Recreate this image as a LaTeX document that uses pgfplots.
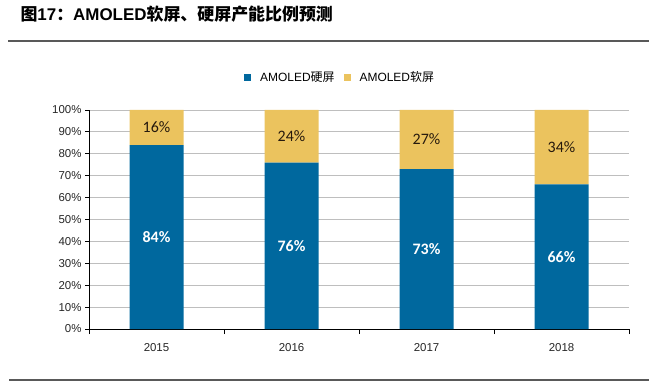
\documentclass[border=0pt]{standalone}
\usepackage{pgfplots}
\pgfplotsset{compat=1.18}
\usepackage{fontspec}
\setmainfont{Liberation Sans}
\newfontfamily\cjk{Noto Sans CJK SC}
\newfontfamily\lab{Carlito}
\definecolor{hard}{RGB}{0,104,158}
\definecolor{soft}{RGB}{235,195,94}
\definecolor{gridc}{RGB}{190,190,190}
\begin{document}
\begin{tikzpicture}[x=1bp,y=1bp]
\path (0,0) rectangle (660,389);
\node[anchor=west,font=\fontsize{17}{19}\selectfont\bfseries] at (17,375) {{\cjk\bfseries 图}17{\cjk\bfseries ：}AMOLED{\cjk\bfseries 软屏、硬屏产能比例预测}};
\draw[line width=1.6bp,color=black!65] (8,348) -- (649,348);
\draw[line width=1.6bp,color=black!65] (9,9) -- (649,9);
\begin{axis}[
  at={(89bp,60bp)}, anchor=south west,
  scale only axis, width=540bp, height=219bp,
  ybar stacked, bar width=54bp,
  xmin=-0.5, xmax=3.5, ymin=0, ymax=100,
  axis x line*=bottom, axis y line*=left,
  axis line style={black, line width=0.9bp},
  xtick={0,1,2,3}, xticklabels={2015,2016,2017,2018},
  major x tick style={draw=none},
  minor xtick={-0.5,0.5,1.5,2.5,3.5},
  minor x tick style={black, line width=0.9bp},
  minor tick length=5bp,
  ytick={0,10,...,100},
  yticklabel={\pgfmathprintnumber{\tick}\%},
  major y tick style={black, line width=0.9bp},
  major tick length=4bp,
  tick align=outside,
  ymajorgrids, grid style={gridc, line width=0.8bp},
  tick label style={font=\fontsize{11.5}{13}\selectfont, color=black!85},
  /pgf/number format/assume math mode=true,
  xticklabel style={yshift=-7bp},
  legend columns=2,
  legend style={at={(0.465,1.15)}, anchor=center, draw=none, fill=none,
    font=\fontsize{12}{14}\selectfont, column sep=7bp},
  legend image code/.code={\fill[#1] (0bp,-3.5bp) rectangle (7bp,3.5bp);},
  nodes near coords={\pgfmathprintnumber{\pgfplotspointmeta}\%},
  point meta=explicit,
]
\addplot[fill=hard, draw=none, nodes near coords style={font=\lab\bfseries\fontsize{16}{18}\selectfont, color=white, anchor=center}]
  coordinates {(0,84) [84] (1,76) [76] (2,73) [73] (3,66) [66]};
\addlegendentry{AMOLED{\cjk 硬屏}\hspace{7bp}}
\addplot[fill=soft, draw=none, nodes near coords style={font=\lab\fontsize{16}{18}\selectfont, color=black!80!brown, anchor=center}]
  coordinates {(0,16) [16] (1,24) [24] (2,27) [27] (3,34) [34]};
\addlegendentry{AMOLED{\cjk 软屏}}
\end{axis}
\end{tikzpicture}
\end{document}
